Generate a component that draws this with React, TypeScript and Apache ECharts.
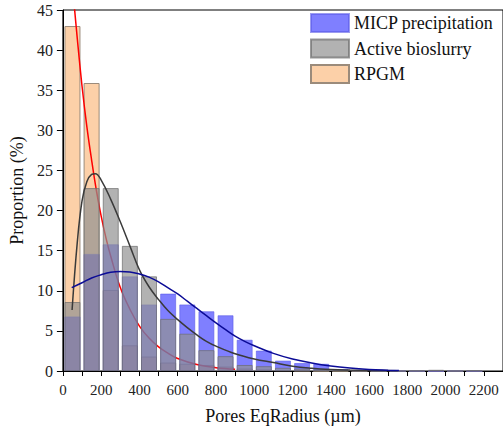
import React, { useEffect, useRef } from "react";
import * as echarts from "echarts";

// Bin centres (µm), bin width 100 µm
const binCenters = [50, 150, 250, 350, 450, 550, 650, 750, 850, 950, 1050, 1150, 1250, 1350, 1450, 1550, 1650, 1750, 1850, 1950, 2050, 2150];

// Proportions (%) per bin
const micpValues = [6.8, 14.6, 15.8, 11.8, 8.3, 9.65, 8.3, 7.45, 6.95, 3.9, 2.55, 1.3, 1.0, 0.9, 0.25, 0.1, 0.05, 0, 0, 0, 0, 0];
const activeValues = [8.6, 22.8, 22.8, 15.6, 11.8, 6.5, 4.65, 2.6, 1.85, 0.75, 0.6, 0.4, 0.3, 0.2, 0.1, 0.05, 0, 0, 0.05, 0.15, 0, 0.08];
const rpgmValues = [43, 35.9, 10.1, 3.2, 1.8, 1.05, 0.9, 0.75, 0.55, 0.3, 0.2, 0.1, 0.05, 0, 0, 0, 0, 0, 0, 0, 0, 0];

// Fitted curves: [radius µm, proportion %]
const micpFit: [number, number][] = [
  [46, 10.4], [100, 11.0], [150, 11.6], [200, 12.0], [250, 12.3], [300, 12.4], [350, 12.35], [400, 12.1],
  [450, 11.7], [500, 11.1], [550, 10.35], [600, 9.6], [650, 8.7], [700, 7.8], [750, 6.9], [800, 6.0],
  [850, 5.15], [900, 4.35], [950, 3.7], [1000, 3.15], [1100, 2.2], [1200, 1.5], [1300, 1.0], [1400, 0.62],
  [1500, 0.36], [1600, 0.19], [1700, 0.09], [1756, 0.05],
];
const activeFit: [number, number][] = [
  [48, 7.6], [75, 16.0], [100, 21.2], [125, 23.6], [150, 24.5], [170, 24.6], [200, 23.8], [250, 21.4],
  [300, 18.6], [350, 15.6], [400, 12.6], [450, 10.5], [500, 8.9], [550, 7.5], [600, 6.4], [650, 5.4],
  [700, 4.5], [750, 3.7], [800, 3.1], [900, 2.15], [1000, 1.5], [1100, 1.05], [1200, 0.6], [1300, 0.35],
  [1400, 0.2], [1500, 0.12], [1600, 0.07], [1750, 0.03],
];
const rpgmFit: [number, number][] = [
  [50, 48.0], [75, 41.5], [100, 35.5], [125, 30.5], [150, 26.3], [175, 22.5], [200, 19.3], [225, 16.6],
  [250, 14.3], [300, 10.4], [350, 7.7], [400, 5.6], [450, 4.1], [500, 3.0], [550, 2.2], [600, 1.55],
  [700, 0.8], [800, 0.42], [900, 0.22],
];

const seriesNames = ["MICP precipitation", "Active bioslurry", "RPGM"];
const FONT = "'Liberation Serif', 'Times New Roman', Times, serif";

export default function App() {
  const ref = useRef<HTMLDivElement>(null);
  useEffect(() => {
    if (!ref.current) return;
    const chart = echarts.init(ref.current, undefined, { renderer: "svg" });
    const pair = (vals: number[]) => binCenters.map((x, i) => [x, vals[i]]);
    const barCommon = { type: "bar", barWidth: 16, barGap: "-100%", xAxisIndex: 0, yAxisIndex: 0 };
    chart.setOption({
      animation: false,
      textStyle: { fontFamily: FONT },
      grid: { left: 60, right: -2, top: 10, bottom: 61, show: true, borderColor: "#000", borderWidth: 1, backgroundColor: "transparent" },
      legend: {
        data: seriesNames,
        orient: "vertical",
        left: 310,
        top: 13,
        itemWidth: 38,
        itemHeight: 18,
        itemGap: 5.5,
        icon: "rect",
        padding: 0,
        textStyle: { fontFamily: FONT, fontSize: 18, color: "#111" },
      },
      xAxis: {
        type: "value",
        min: 0,
        max: 2300,
        interval: 100,
        name: "Pores EqRadius (µm)",
        nameLocation: "middle",
        nameGap: 36,
        nameTextStyle: { fontFamily: FONT, fontSize: 18, color: "#111" },
        axisLine: { show: true, lineStyle: { color: "#000", width: 1 } },
        axisTick: { show: true, length: 5, lineStyle: { color: "#000" } },
        splitLine: { show: false },
        axisLabel: {
          fontFamily: FONT,
          fontSize: 15,
          color: "#222",
          margin: 11,
          showMaxLabel: false,
          formatter: (v: number) => (v % 200 === 0 ? String(v) : ""),
        },
      },
      yAxis: {
        type: "value",
        min: 0,
        max: 45,
        interval: 5,
        name: "Proportion (%)",
        nameLocation: "middle",
        nameGap: 29,
        nameTextStyle: { fontFamily: FONT, fontSize: 18, color: "#111" },
        axisLine: { show: true, lineStyle: { color: "#000", width: 1 } },
        axisTick: { show: true, length: 6, lineStyle: { color: "#000" } },
        splitLine: { show: false },
        axisLabel: { fontFamily: FONT, fontSize: 16, color: "#222", margin: 10 },
      },
      series: [
        {
          ...barCommon,
          name: "RPGM",
          z: 1,
          data: pair(rpgmValues),
          itemStyle: { color: "#fcd0a8", borderColor: "#9b8b7b", borderWidth: 1 },
        },
        {
          type: "line",
          name: "RPGM fit",
          z: 2,
          data: rpgmFit,
          smooth: 0.4,
          showSymbol: false,
          clip: true,
          lineStyle: { color: "#ff0000", width: 1.5 },
        },
        {
          ...barCommon,
          name: "MICP precipitation",
          z: 3,
          data: pair(micpValues),
          itemStyle: { color: "rgba(0,0,255,0.5)", borderColor: "rgba(90,90,230,0.6)", borderWidth: 1 },
        },
        {
          ...barCommon,
          name: "Active bioslurry",
          z: 4,
          data: pair(activeValues),
          itemStyle: { color: "rgba(146,146,146,0.7)", borderColor: "rgba(110,110,110,0.7)", borderWidth: 1 },
        },
        {
          type: "line",
          name: "Active fit",
          z: 5,
          data: activeFit,
          smooth: 0.4,
          showSymbol: false,
          clip: true,
          lineStyle: { color: "#3a3a3a", width: 1.5 },
        },
        {
          type: "line",
          name: "MICP fit",
          z: 6,
          data: micpFit,
          smooth: 0.4,
          showSymbol: false,
          clip: true,
          lineStyle: { color: "#0b0b96", width: 1.5 },
        },
      ],
    });
    return () => chart.dispose();
  }, []);
  return <div ref={ref} style={{ width: 503, height: 432, position: "absolute", left: 0, top: 0 }} />;
}
